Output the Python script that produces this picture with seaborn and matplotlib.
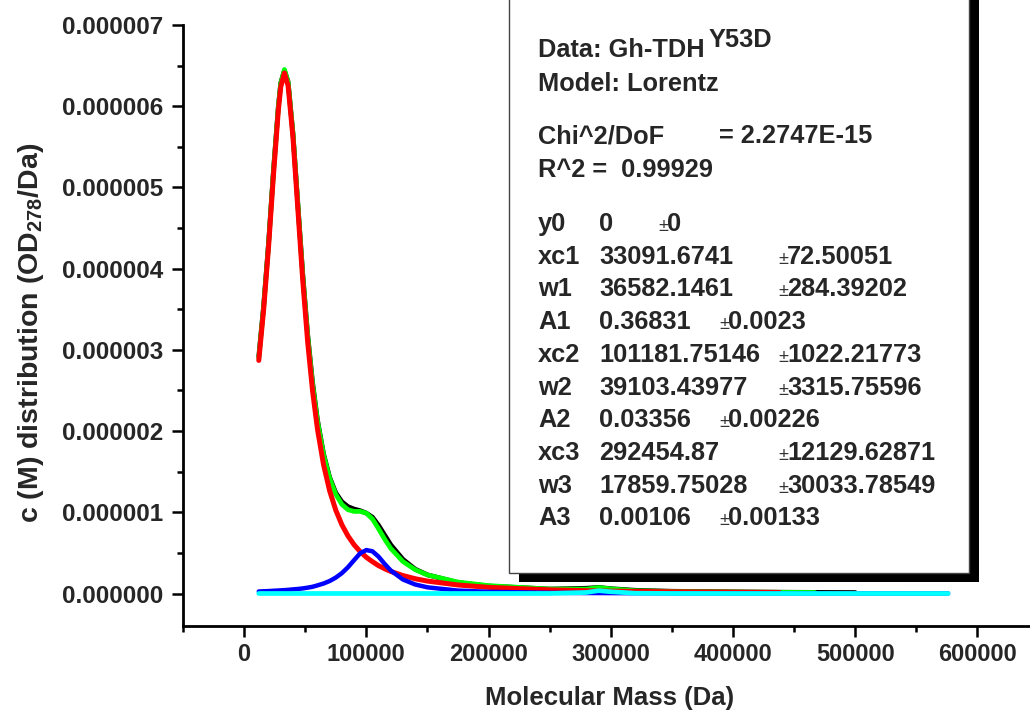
import pandas as pd
import matplotlib
matplotlib.use('Agg')
import matplotlib.pyplot as plt
import seaborn as sns
from matplotlib import font_manager
from matplotlib.patches import Rectangle
from matplotlib.ticker import MultipleLocator, FormatStrFormatter

# molecular mass grid (Da) and curves, in units of 1e-6 OD278/Da
mass = [12000, 16000, 20000, 24000, 28000, 30000, 33000, 36000, 40000, 44000,
        48000, 52000, 56000, 60000, 65000, 70000, 75000, 80000, 85000, 90000,
        95000, 100000, 105000, 110000, 115000, 120000, 130000, 140000, 150000,
        175000, 200000, 250000, 280000, 290000, 300000, 320000, 350000, 400000,
        438000, 467000, 500000, 540000, 576000]

data_c = [2.92, 3.55, 4.32, 5.21, 6.00, 6.29, 6.44, 6.30, 5.66, 4.79,
          3.93, 3.19, 2.60, 2.14, 1.72, 1.43, 1.24, 1.13, 1.07, 1.04,
          1.02, 0.99, 0.94, 0.84, 0.72, 0.60, 0.42, 0.30, 0.23,
          0.135, 0.092, 0.055, 0.065, 0.075, 0.060, 0.040, 0.028, 0.020,
          0.016, 0.014, 0.012]

fit_sum = [2.90, 3.53, 4.30, 5.19, 5.99, 6.28, 6.452, 6.297, 5.661, 4.784,
           3.915, 3.171, 2.578, 2.126, 1.708, 1.418, 1.222, 1.097, 1.032, 1.011,
           1.011, 0.990, 0.918, 0.797, 0.669, 0.555, 0.393, 0.293, 0.229,
           0.141, 0.097, 0.055, 0.054, 0.073, 0.057, 0.034, 0.025, 0.018,
           0.015, 0.013]

peak1 = [2.87, 3.50, 4.27, 5.15, 5.95, 6.24, 6.410, 6.252, 5.610, 4.728,
         3.852, 3.099, 2.495, 2.026, 1.585, 1.264, 1.026, 0.846, 0.708, 0.600,
         0.515, 0.446, 0.392, 0.343, 0.305, 0.272, 0.221, 0.182, 0.153,
         0.105, 0.076, 0.045, 0.035, 0.032, 0.030, 0.026, 0.021, 0.016,
         0.013]

peak2 = [0.025, 0.028, 0.030, 0.034, 0.037, 0.039, 0.042, 0.045, 0.051, 0.056,
         0.063, 0.072, 0.083, 0.100, 0.123, 0.154, 0.196, 0.251, 0.324, 0.411,
         0.496, 0.535, 0.520, 0.454, 0.364, 0.283, 0.172, 0.111, 0.076,
         0.036, 0.021, 0.009, 0.006, 0.0055, 0.005, 0.004, 0.003, 0.002,
         0.0018, 0.0016, 0.0014, 0.0012, 0.0011]

peak3 = [0.0003, 0.0003, 0.0003, 0.0003, 0.0003, 0.0003, 0.0003, 0.0003, 0.0003, 0.0003,
         0.0003, 0.0003, 0.0003, 0.0003, 0.0003, 0.0003, 0.0003, 0.0003, 0.0003, 0.0003,
         0.0003, 0.0003, 0.0003, 0.0003, 0.0003, 0.0003, 0.0003, 0.0003, 0.0003,
         0.0003, 0.0004, 0.0007, 0.0128, 0.0351, 0.022, 0.0036, 0.0009, 0.0003,
         0.0002, 0.0002, 0.0001, 0.0001, 0.0001]

SCALE = 1e-6

fit_rows = [('y0', '0', '0'),
            ('xc1', '33091.6741', '72.50051'),
            ('w1', '36582.1461', '284.39202'),
            ('A1', '0.36831', '0.0023'),
            ('xc2', '101181.75146', '1022.21773'),
            ('w2', '39103.43977', '3315.75596'),
            ('A2', '0.03356', '0.00226'),
            ('xc3', '292454.87', '12129.62871'),
            ('w3', '17859.75028', '30033.78549'),
            ('A3', '0.00106', '0.00133')]

sns.set_style('ticks')
plt.rcParams['font.family'] = ['Liberation Sans', 'DejaVu Sans']
plt.rcParams['font.weight'] = 'bold'
plt.rcParams['mathtext.fontset'] = 'custom'
plt.rcParams['mathtext.rm'] = 'Liberation Sans:bold'
plt.rcParams['mathtext.bf'] = 'Liberation Sans:bold'

installed = {f.name for f in font_manager.fontManager.ttflist}
narrow = 'Liberation Sans Narrow' in installed
xfont = ['Liberation Sans Narrow', 'Liberation Sans'] if narrow else ['Liberation Sans']
xtick_size = 21 if narrow else 17
xlabel_size = 22.5 if narrow else 18.5

W, H = 1030, 713
fig = plt.figure(figsize=(W / 100, H / 100), dpi=100)
ax = fig.add_axes([183 / W, 1 - 626 / H, (W - 183) / W, 601 / H])


def curve(y):
    n = len(y)
    return pd.DataFrame({'mass': mass[:n], 'c': [v * SCALE for v in y]})


sns.lineplot(data=curve(data_c), x='mass', y='c', ax=ax, color='black', lw=3.4, sort=False, zorder=2)
sns.lineplot(data=curve(fit_sum), x='mass', y='c', ax=ax, color='#00ff00', lw=3.4, sort=False, zorder=3)
sns.lineplot(data=curve(peak1), x='mass', y='c', ax=ax, color='#ff0000', lw=3.6, sort=False, zorder=4)
sns.lineplot(data=curve(peak2), x='mass', y='c', ax=ax, color='#0000ff', lw=3.2, sort=False, zorder=5)
sns.lineplot(data=curve(peak3), x='mass', y='c', ax=ax, color='#00ffff', lw=3.4, sort=False, zorder=6)

ax.set_xlim(-50000, 643000)
ax.set_ylim(-0.4e-6, 7.0e-6)
ax.xaxis.set_major_locator(MultipleLocator(100000))
ax.xaxis.set_minor_locator(MultipleLocator(50000))
ax.yaxis.set_major_locator(MultipleLocator(1e-6))
ax.yaxis.set_minor_locator(MultipleLocator(0.5e-6))
ax.xaxis.set_major_formatter(FormatStrFormatter('%d'))
ax.yaxis.set_major_formatter(FormatStrFormatter('%.6f'))

for side in ['top', 'right']:
    ax.spines[side].set_visible(False)
for side in ['left', 'bottom']:
    ax.spines[side].set_linewidth(2.0)
    ax.spines[side].set_color('black')

ax.tick_params(which='major', length=8, width=1.8, color='black')
ax.tick_params(which='minor', length=4.5, width=1.8, color='black')
ax.tick_params(axis='y', which='major', labelsize=17.5, pad=6)
ax.tick_params(axis='x', which='major', labelsize=xtick_size, pad=4)
for lab in ax.get_xticklabels():
    lab.set_family(xfont)
    lab.set_fontweight('bold')
for lab in ax.get_yticklabels():
    lab.set_fontweight('bold')

ax.set_xlabel('Molecular Mass (Da)', fontsize=xlabel_size, fontweight='bold', family=xfont)
ax.xaxis.set_label_coords((610 - 183) / 847, (626 - 686) / 601)
ax.set_ylabel('c (M) distribution (OD$_{278}$/Da)', fontsize=20.5, fontweight='bold')
ax.yaxis.set_label_coords((46 - 183) / 847, (626 - 333) / 601)


def fx(x):
    return x / W


def fy(y):
    return 1 - y / H


# fit report box with drop shadow
fig.add_artist(Rectangle((fx(519), fy(582)), (979 - 519) / W, (582 + 30) / H,
                         transform=fig.transFigure, facecolor='black', edgecolor='none', zorder=5))
fig.add_artist(Rectangle((fx(509), fy(573)), (969 - 509) / W, (573 + 30) / H,
                         transform=fig.transFigure, facecolor='white', edgecolor='#444444',
                         lw=1.0, zorder=6))

tsize = 18.3
txt = dict(fontsize=tsize, fontweight='bold', va='baseline', ha='left', zorder=7)
fig.text(fx(538), fy(57), 'Data: Gh-TDH', **txt)
fig.text(fx(709), fy(47), 'Y53D', **txt)
fig.text(fx(538), fy(91), 'Model: Lorentz', **txt)
fig.text(fx(538), fy(143), 'Chi^2/DoF', **txt)
fig.text(fx(719), fy(143), '= 2.2747E-15', **txt)
fig.text(fx(538), fy(177), 'R^2 =  0.99929', **txt)

row_y0 = 231
row_step = 32.7
for i, (name, val, err) in enumerate(fit_rows):
    yb = fy(row_y0 + i * row_step)
    if name == 'y0':
        ex = 658
    elif name.startswith('A'):
        ex = 719
    else:
        ex = 778
    fig.text(fx(538), yb, name, **txt)
    fig.text(fx(599), yb, val, **txt)
    fig.text(fx(ex), yb, '\u00b1', fontsize=13, fontweight='normal', color='#333333',
             va='baseline', ha='left', zorder=7)
    fig.text(fx(ex + 9), yb, err, **txt)

fig.savefig('out.png', dpi=100)
plt.close(fig)
